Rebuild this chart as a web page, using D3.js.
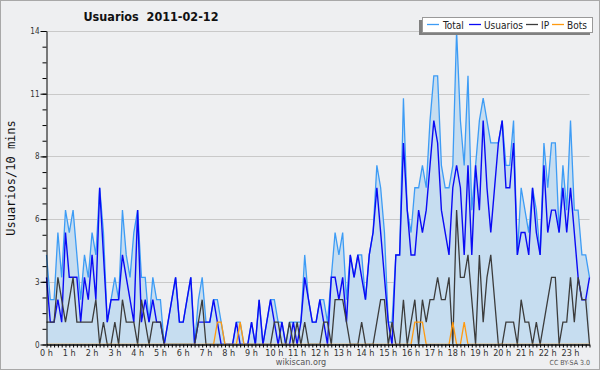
<!DOCTYPE html>
<html><head><meta charset="utf-8">
<script src="https://cdn.jsdelivr.net/npm/d3@7"></script>
<style>
body{margin:0;background:#fff;}
svg{display:block;}
text{font-family:"DejaVu Sans Condensed","DejaVu Sans",sans-serif;}
</style></head><body>
<svg id="c" width="600" height="370"></svg>
<script>
const title = "Usuarios  2011-02-12";
const yAxisTitle = "Usuarios/10 mins";
const seriesNames = ["Total", "Usuarios", "IP", "Bots"];
const hourLabels = ["0 h","1 h","2 h","3 h","4 h","5 h","6 h","7 h","8 h","9 h","10 h","11 h","12 h","13 h","14 h","15 h","16 h","17 h","18 h","19 h","20 h","21 h","22 h","23 h"];
const yTickValues = [0, 2.8, 5.6, 8.4, 11.2, 14];
const yTickLabels = ["0", "3", "6", "8", "11", "14"];

const total = [4,2,2,5,3,6,5,6,4,2, 4,3,5,4,7,5,1,2,3,2, 6,4,3,5,6,3,3,1,3,2, 2,0,1,2,3,1,
  1,2,3,0,2,3,1,1,2,2, 1,0,0,0,1,1,0,0,1,0, 2,0,1,2,2,1,1,0,1,1, 1,1,4,2,1,1,
  2,2,1,3,5,4,5,2,4,3, 4,4,2,4,5,8,7,5,1,1, 4,4,11,6,5,7,7,8,7,10, 12,12,8,7,7,8,
  14,10,8,12,6,8,10,11,10,9, 9,9,10,8,8,10,4,7,6,5, 7,6,4,9,7,9,9,5,8,6, 10,6,6,4,4,3];
const usuarios = [3,1,1,2,1,5,3,3,3,1, 3,2,4,2,7,4,1,2,2,2, 4,3,2,1,6,1,2,1,2,1, 1,0,1,2,3,1,
  1,2,3,0,1,1,1,1,2,1, 0,0,0,0,1,0,0,0,1,0, 2,0,1,2,1,0,1,0,0,1, 0,1,3,2,1,1,
  2,1,0,3,3,2,3,1,4,3, 4,3,2,4,5,7,5,3,1,0, 4,4,9,6,4,4,6,5,6,8, 10,9,6,5,4,7,
  8,7,4,8,4,8,6,10,7,5, 7,9,10,7,7,9,4,5,5,4, 7,5,4,8,5,6,6,5,7,5, 7,5,3,2,2,3];
const ip = [1,1,1,3,2,1,2,3,1,1, 1,1,1,2,0,1,0,0,1,0, 2,1,1,1,0,2,1,0,1,1, 1,0,0,0,0,0,
  0,0,0,0,1,2,0,0,0,0, 0,0,0,0,0,0,0,0,0,0, 0,0,0,0,1,1,0,0,1,0, 1,0,1,0,0,0,
  0,1,1,0,2,2,2,1,0,0, 0,1,0,0,0,1,2,2,0,1, 0,0,2,0,1,2,0,2,1,2, 2,3,2,2,3,0,
  6,3,3,4,2,0,4,1,3,4, 2,0,0,1,1,1,0,2,1,1, 0,1,0,1,2,3,3,0,1,1, 3,1,3,2,2,0];
const bots = [0,0,0,0,0,0,0,0,0,0, 0,0,0,0,0,0,0,0,0,0, 0,0,0,0,0,0,0,0,0,0, 0,0,0,0,0,0,
  0,0,0,0,0,0,0,0,0,1, 1,0,0,0,0,1,0,0,0,0, 0,0,0,0,0,0,0,0,0,0, 0,0,0,0,0,0,
  0,0,0,0,0,0,0,0,0,0, 0,0,0,0,0,0,0,0,0,0, 0,0,0,0,0,1,1,1,0,0, 0,0,0,0,0,1,
  0,0,1,0,0,0,0,0,0,0, 0,0,0,0,0,0,0,0,0,0, 0,0,0,0,0,0,0,0,0,0, 0,0,0,0,0,0];

const colors = {total:"#3d9cf5", usuarios:"#0a0af5", ip:"#3c3c3c", bots:"#ff9a10", fill:"#c6ddf0"};

const svg = d3.select("#c");
svg.append("defs").append("clipPath").attr("id","plotclip")
  .append("rect").attr("x",0).attr("y",0).attr("width",600).attr("height",343.9);
svg.append("rect").attr("x",0.5).attr("y",0.5).attr("width",599).attr("height",369)
  .attr("fill","#eeeff1").attr("stroke","#a8a8a8");

const x = d3.scaleLinear().domain([0, total.length - 1]).range([46.5, 589.5]);
const y = d3.scaleLinear().domain([0, 14]).range([344.5, 31]);

// gridlines
svg.append("g").selectAll("line").data(yTickValues.slice(1)).join("line")
  .attr("x1", x(0)).attr("x2", x(total.length-1))
  .attr("y1", d => Math.round(y(d))+0.5).attr("y2", d => Math.round(y(d))+0.5)
  .attr("stroke", "#c9c9c9").attr("stroke-width", 1);

// area
svg.append("path").datum(total)
  .attr("d", d3.area().x((d,i)=>x(i)).y0(y(0)).y1(d=>y(d)))
  .attr("fill", colors.fill);

const line = d3.line().x((d,i)=>x(i)).y(d=>y(d));
const lines = svg.append("g").attr("clip-path","url(#plotclip)");
[[total,colors.total,1.3],[usuarios,colors.usuarios,1.4],[ip,colors.ip,1.3],[bots,colors.bots,1.3]].forEach(([s,c,w])=>{
  lines.append("path").datum(s).attr("d", line).attr("fill","none").attr("stroke",c).attr("stroke-width",w).attr("stroke-linejoin","miter");
});

// y axis
const yAx = svg.append("g").attr("transform","translate(46.5,0)")
  .call(d3.axisLeft(y).tickValues(yTickValues).tickFormat((d,i)=>yTickLabels[i]).tickSize(6).tickSizeOuter(0).tickPadding(1));
yAx.selectAll("text").attr("font-size", 8).attr("fill","#333").style("font-family",'"DejaVu Sans Condensed","DejaVu Sans",sans-serif');
yAx.select(".domain").attr("stroke","#000");
svg.append("g").attr("transform","translate(46.5,0)")
  .call(d3.axisLeft(y).tickValues(d3.range(0, 14.01, 0.7)).tickFormat("").tickSize(4).tickSizeOuter(0))
  .select(".domain").remove();

// x axis
const xAx = svg.append("g").attr("transform","translate(0,344.5)")
  .call(d3.axisBottom(x).tickValues(d3.range(0, total.length)).tickFormat("").tickSize(3).tickSizeOuter(0));
xAx.select(".domain").attr("stroke","#000").attr("stroke-width",1.4);
svg.append("g").selectAll("text").data(hourLabels).join("text")
  .attr("x", (d,i)=>x(i*6)).attr("y", 356).attr("text-anchor","middle")
  .attr("font-size", 9).attr("fill","#333").text(d=>d);

// titles
svg.append("text").attr("x",151).attr("y",21).attr("text-anchor","middle")
  .attr("font-size",12.5).attr("font-weight","bold").attr("fill","#111").style("white-space","pre").text(title);
svg.append("text").attr("transform","translate(15,178) rotate(-90)").attr("text-anchor","middle")
  .attr("font-size",12).attr("fill","#111").style("font-family",'"DejaVu Sans Mono",monospace').text(yAxisTitle);
svg.append("text").attr("x",301).attr("y",365).attr("text-anchor","middle")
  .attr("font-size",9).attr("fill","#555").text("wikiscan.org");
svg.append("text").attr("x",590).attr("y",365).attr("text-anchor","end")
  .attr("font-size",7).attr("fill","#555").text("CC BY-SA 3.0");

// legend
const lg = svg.append("g");
lg.append("rect").attr("x",419).attr("y",20).attr("width",171).attr("height",15).attr("fill","#808080");
lg.append("rect").attr("x",422.5).attr("y",17.5).attr("width",170).attr("height",15).attr("fill","#fff").attr("stroke","#999");
const legendItems = [
  {name:seriesNames[0], c:colors.total, lx:427, tx:443},
  {name:seriesNames[1], c:colors.usuarios, lx:469, tx:484},
  {name:seriesNames[2], c:colors.ip, lx:526, tx:541},
  {name:seriesNames[3], c:colors.bots, lx:552, tx:567}];
legendItems.forEach(it=>{
  lg.append("line").attr("x1",it.lx).attr("x2",it.lx+12).attr("y1",24.5).attr("y2",24.5).attr("stroke",it.c).attr("stroke-width",1.3);
  lg.append("text").attr("x",it.tx).attr("y",28.5).attr("font-size",10).attr("fill","#222").text(it.name);
});
</script></body></html>
